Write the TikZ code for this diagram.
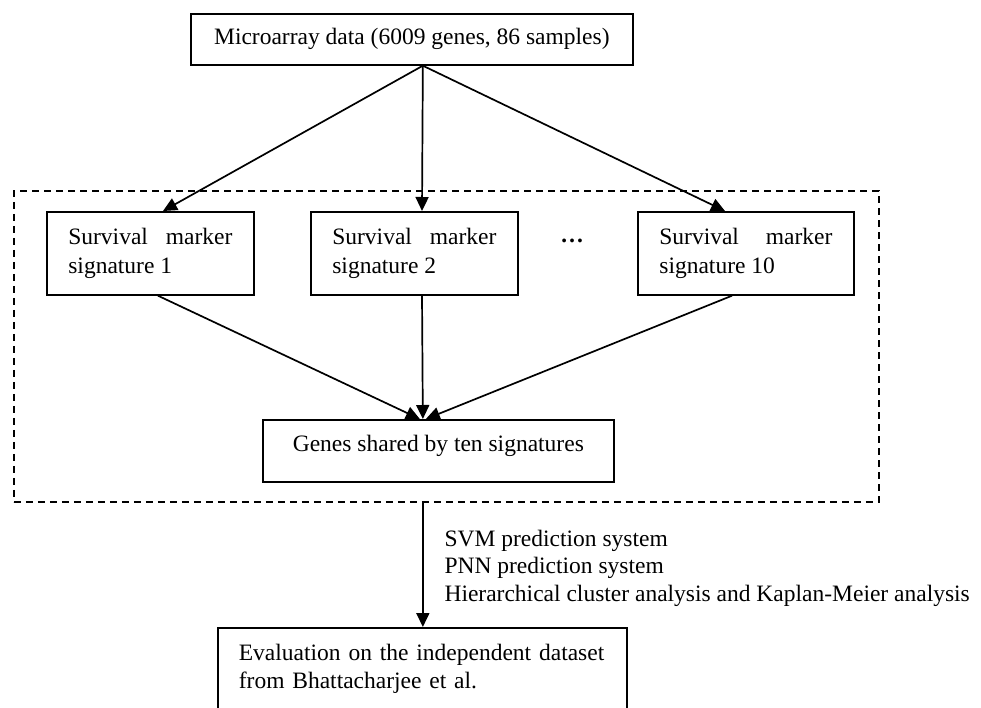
\documentclass[tikz,border=0pt]{standalone}
\usepackage{fontspec}
\setmainfont{Liberation Serif}
\usetikzlibrary{arrows.meta,calc}

\begin{document}
\begin{tikzpicture}[x=1pt,y=-1pt,
  txt/.style={font=\fontsize{23.5}{28.5}\selectfont},
  box/.style={txt,draw,line width=1.7pt,inner sep=0pt,anchor=north west},
  sigbox/.style={box,inner xsep=21.5pt,align=justify,minimum height=83pt},
  grpbox/.style={draw,dashed,line width=1.7pt,dash pattern=on 7pt off 5pt,anchor=north west,inner sep=0pt},
  link/.style={line width=1.7pt,-{Triangle[length=14pt,width=13pt]}}
]
\useasboundingbox (0,0) rectangle (981,707);
\clip (0,0) rectangle (981,707);
\fill[white] (0,0) rectangle (981,707);

% input data
\node[box,minimum width=442pt,minimum height=51pt] (data) at (190,13)
  {Microarray data (6009 genes, 86 samples)};

% group of signatures
\node[grpbox,minimum width=865pt,minimum height=311pt] (grp) at (13,190) {};

\node[sigbox,text width=164pt] (s1) at (46,211) {Survival marker signature 1};
\node[sigbox,text width=164pt] (s2) at (310,211) {Survival marker signature 2};
\node[sigbox,text width=173pt] (s10) at (637,211) {Survival marker signature 10};
\node[txt] (dots) at (572,241) {\textbf{\ldots}};

\node[box,minimum width=351pt,minimum height=62pt,text depth=15pt] (shared) at (262,419)
  {Genes shared by ten signatures};

% evaluation
\node[box,minimum width=409pt,minimum height=82pt,inner xsep=21pt,text width=367pt,align=left] (eval) at (217,627)
  {Evaluation on the independent dataset\\from Bhattacharjee et al.};

\node[txt,align=left,anchor=west,font=\fontsize{23.5}{27.5}\selectfont] (methods) at (441,568)
  {SVM prediction system\\PNN prediction system\\Hierarchical cluster analysis and Kaplan-Meier analysis};

% connectors
\coordinate (fork) at ([xshift=11pt]data.south);
\draw[link] (fork) -- ([xshift=117pt]s1.north west);
\draw[link] (fork) -- ([xshift=112pt]s2.north west);
\draw[link] (fork) -- ([xshift=88pt]s10.north west);

\coordinate (join) at ([xshift=-15.5pt]shared.north);
\draw[link] ([xshift=112pt]s1.south west) -- ([xshift=-3pt]join);
\draw[link] ([xshift=112pt]s2.south west) -- (join);
\draw[link] ([xshift=95pt]s10.south west) -- ([xshift=3pt]join);

\draw[link] ([xshift=-23.5pt]grp.south) -- (eval.north west -| join);
\end{tikzpicture}
\end{document}
